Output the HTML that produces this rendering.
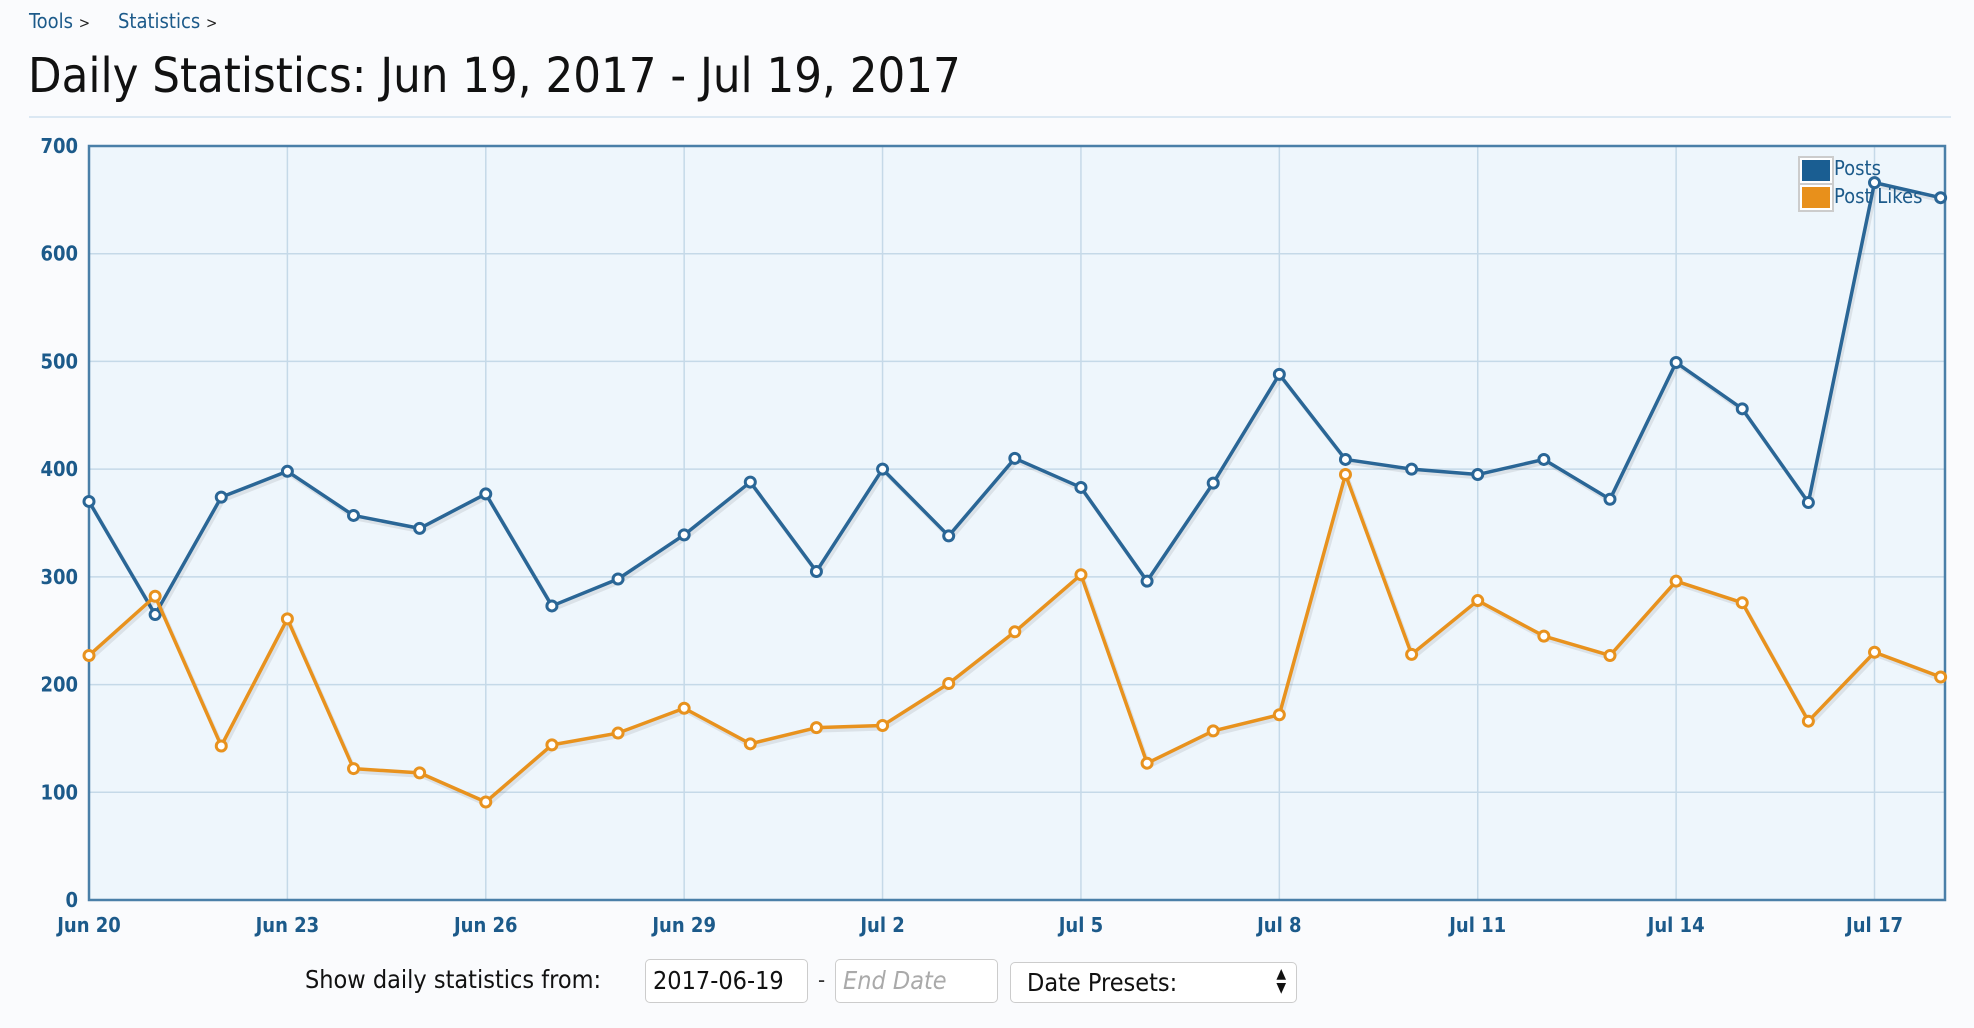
<!DOCTYPE html>
<html><head><meta charset="utf-8"><style>
body{margin:0;width:1974px;height:1028px;background:#fafbfd;font-family:"DejaVu Sans Condensed","Liberation Sans",sans-serif;overflow:hidden;position:relative}
.a{position:absolute;white-space:nowrap}
.bc{color:#1c5a8a;font-size:20px;top:9px}
.inp{position:absolute;border:1px solid #ccc;border-radius:5px;background:#fff;box-sizing:border-box;font-size:25px;padding:6px 7px;color:#111}
</style></head><body>
<div class="a bc" style="left:29px">Tools <span style="color:#222;font-size:15px">&gt;</span></div>
<div class="a bc" style="left:118px">Statistics <span style="color:#222;font-size:15px">&gt;</span></div>
<div class="a" style="left:28px;top:48px;font-size:48.5px;color:#111">Daily Statistics: Jun 19, 2017 - Jul 19, 2017</div>
<div class="a" style="left:29px;top:116px;width:1922px;height:2px;background:#dbe8f3"></div>
<svg id="s" class="a" style="left:0;top:0" width="1974" height="1028"></svg>
<div class="a" style="left:305px;top:965px;font-size:25px;color:#111">Show daily statistics from:</div>
<div class="inp" style="left:645px;top:959px;width:163px;height:44px">2017-06-19</div>
<div class="a" style="left:818px;top:968px;font-size:22px;color:#333">-</div>
<div class="inp" style="left:835px;top:959px;width:163px;height:44px;color:#aaa;font-style:italic">End Date</div>
<div class="inp" style="left:1010px;top:962px;width:287px;height:41px;padding:5px 16px">Date Presets:<span style="position:absolute;right:10px;top:4px;font-size:14px;line-height:14px">▲<br>▼</span></div>
<script>
const posts=[370,265,374,398,357,345,377,273,298,339,388,305,400,338,410,383,296,387,488,409,400,395,409,372,499,456,369,666,652];
const likes=[227,282,143,261,122,118,91,144,155,178,145,160,162,201,249,302,127,157,172,395,228,278,245,227,296,276,166,230,207];
const L=89,R=1945,T=146,B=900,dx=66.13;
const X=i=>L+i*dx, Y=v=>B-v*(B-T)/700;
const F='font-family="DejaVu Sans Condensed,Liberation Sans,sans-serif"';
let h=`<rect x="${L}" y="${T}" width="${R-L}" height="${B-T}" fill="#eef6fc"/>`;
for(let v=100;v<700;v+=100)h+=`<line x1="${L}" x2="${R}" y1="${Y(v)}" y2="${Y(v)}" stroke="#c5d9e8" stroke-width="1.5"/>`;
const labs=["Jun 20","Jun 23","Jun 26","Jun 29","Jul 2","Jul 5","Jul 8","Jul 11","Jul 14","Jul 17"];
labs.forEach((t,k)=>{const x=X(k*3);if(k>0)h+=`<line x1="${x}" x2="${x}" y1="${T}" y2="${B}" stroke="#c5d9e8" stroke-width="1.5"/>`;
h+=`<text x="${x}" y="932" text-anchor="middle" font-size="20" font-weight="bold" fill="#1c5a8a" ${F}>${t}</text>`;});
for(let v=0;v<=700;v+=100)h+=`<text x="78" y="${Y(v)+7}" text-anchor="end" font-size="20" font-weight="bold" fill="#1c5a8a" ${F}>${v}</text>`;
h+=`<rect x="${L}" y="${T}" width="${R-L}" height="${B-T}" fill="none" stroke="#4a7fa8" stroke-width="2.5"/>`;
function ser(d,c){const p=d.map((v,i)=>X(i)+","+Y(v)).join(" ");
h+=`<polyline points="${d.map((v,i)=>(X(i)+2)+","+(Y(v)+3)).join(" ")}" fill="none" stroke="rgba(0,0,0,0.08)" stroke-width="4"/>`;
h+=`<polyline points="${p}" fill="none" stroke="${c}" stroke-width="3.5" stroke-linejoin="round"/>`;
d.forEach((v,i)=>h+=`<circle cx="${X(i)}" cy="${Y(v)}" r="5" fill="#fff" stroke="${c}" stroke-width="3"/>`);}
ser(posts,"#2a6696");ser(likes,"#e8921e");
h+=`<rect x="1799" y="157" width="34" height="27" fill="#fff" stroke="#ccc" stroke-width="2"/><rect x="1802" y="160" width="28" height="21" fill="#1a5e92"/>`;
h+=`<rect x="1799" y="184" width="34" height="27" fill="#fff" stroke="#ccc" stroke-width="2"/><rect x="1802" y="187" width="28" height="21" fill="#e8901b"/>`;
h+=`<text x="1834" y="175" font-size="20" fill="#1c5a8a" ${F}>Posts</text>`;
h+=`<text x="1834" y="203" font-size="20" fill="#1c5a8a" ${F}>Post Likes</text>`;
document.getElementById("s").innerHTML=h;
</script>
</body></html>
